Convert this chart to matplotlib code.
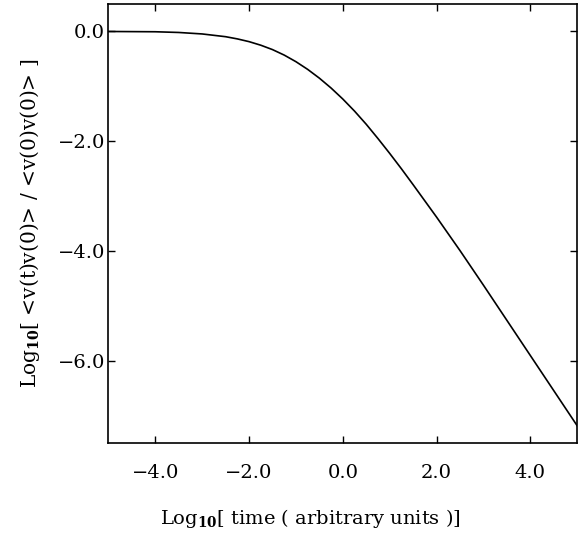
import matplotlib
matplotlib.use("Agg")
import matplotlib.pyplot as plt
import numpy as np

# log10(time) and log10 of normalised velocity autocorrelation
log_t = [-5.0, -4.0, -3.5, -3.0, -2.5, -2.25, -2.0, -1.75, -1.5, -1.25, -1.0,
         -0.75, -0.5, -0.25, 0.0, 0.25, 0.5, 0.75, 1.0, 1.25, 1.5, 1.75, 2.0,
         2.5, 3.0, 3.5, 4.0, 4.5, 5.0]
log_c = [0.0, -0.005, -0.018, -0.045, -0.095, -0.135, -0.185, -0.25, -0.33,
         -0.43, -0.55, -0.69, -0.85, -1.03, -1.23, -1.45, -1.69, -1.95, -2.22,
         -2.50, -2.79, -3.085, -3.38, -3.99, -4.62, -5.26, -5.9, -6.54, -7.18]

xticks = [-4.0, -2.0, 0.0, 2.0, 4.0]
yticks = [0.0, -2.0, -4.0, -6.0]

plt.rcParams["font.family"] = "DejaVu Serif"
plt.rcParams["mathtext.fontset"] = "dejavuserif"

fig = plt.figure(figsize=(5.83, 5.37), dpi=100)
ax = fig.add_axes([0.186, 0.1745, 0.804, 0.818])

ax.plot(log_t, log_c, color="black", linewidth=1.2)

ax.set_xlim(-5, 5)
ax.set_ylim(-7.5, 0.5)

ax.set_xticks(xticks)
ax.set_xticklabels([f"{v:.1f}".replace("-", "\u2212") for v in xticks])
ax.set_yticks(yticks)
ax.set_yticklabels([f"{v:.1f}".replace("-", "\u2212") for v in yticks])

ax.tick_params(direction="in", length=5, width=1.0, top=True, right=True,
               labelsize=14)
ax.tick_params(axis="x", pad=15)
ax.tick_params(axis="y", pad=2.5)
for s in ax.spines.values():
    s.set_linewidth(1.2)

ax.set_xlabel(r"Log$_{\mathbf{10}}$[ time ( arbitrary units )]", fontsize=14)
ax.xaxis.set_label_coords(0.431, -0.146)
ax.set_ylabel(r"Log$_{\mathbf{10}}$[ <v(t)v(0)> / <v(0)v(0)> ]", fontsize=14.5, labelpad=11)

plt.savefig("out.png", dpi=100)
